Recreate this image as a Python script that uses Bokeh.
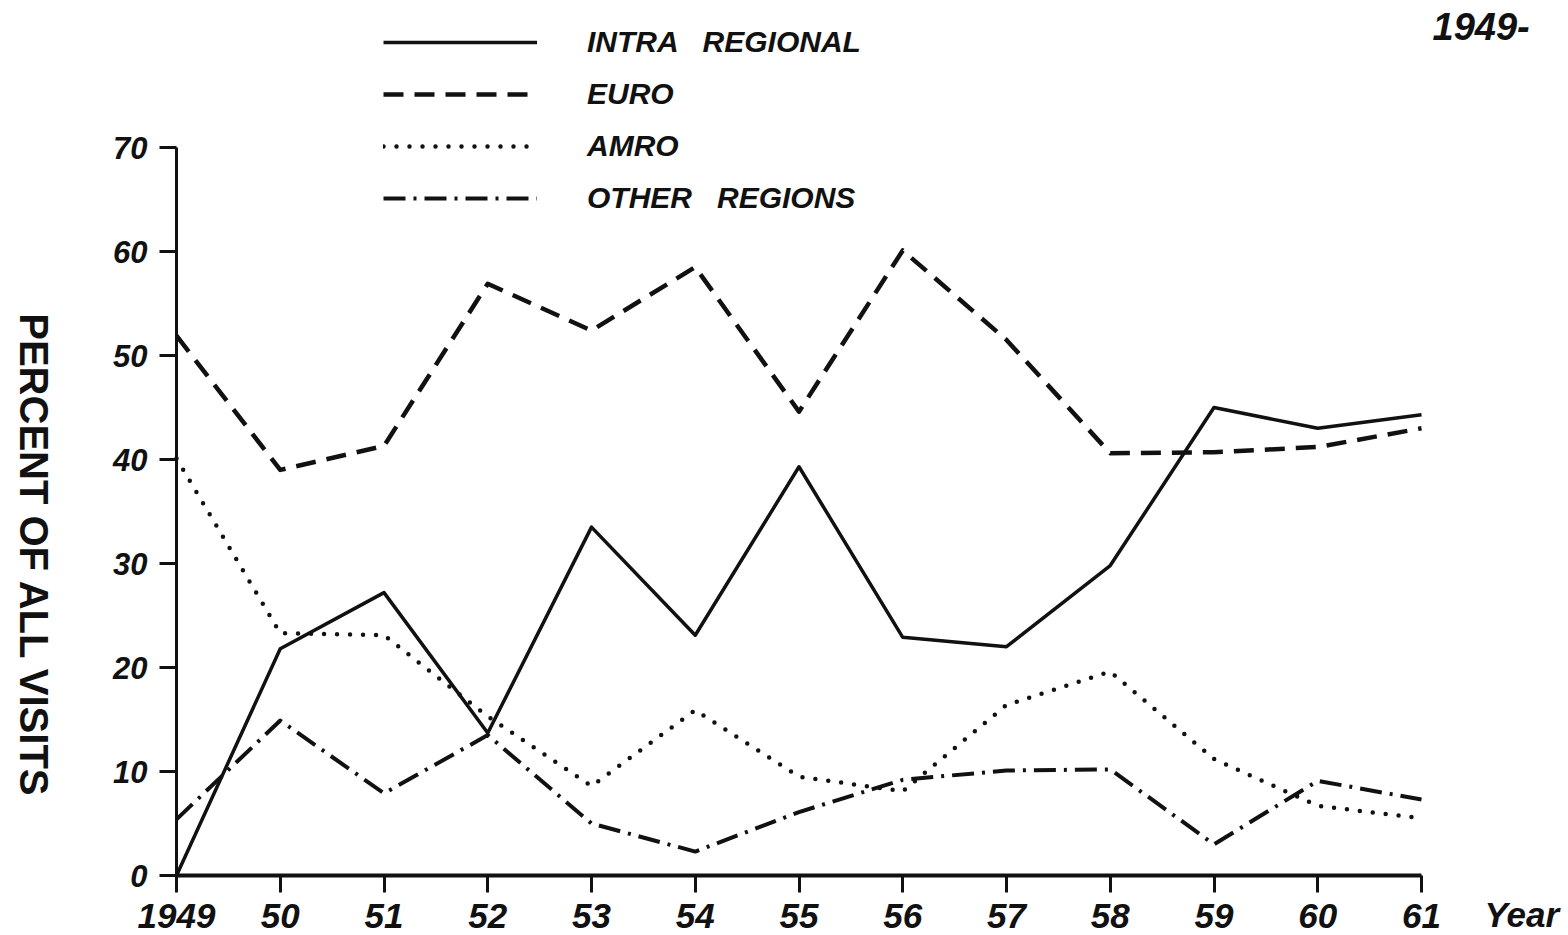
import math
from bokeh.plotting import figure
from bokeh.models import Range1d, LinearAxis, FixedTicker, Legend, LegendItem, Label
from bokeh.embed import file_html
from bokeh.resources import INLINE

# ---- data ----
years = [1949, 1950, 1951, 1952, 1953, 1954, 1955, 1956, 1957, 1958, 1959, 1960, 1961]
year_labels = ["1949", "50", "51", "52", "53", "54", "55", "56", "57", "58", "59", "60", "61"]
intra_regional = [0, 21.8, 27.2, 13.7, 33.5, 23.1, 39.3, 22.9, 22.0, 29.8, 45.0, 43.0, 44.3]
euro = [51.9, 39.0, 41.3, 56.9, 52.4, 58.5, 44.6, 60.1, 51.5, 40.6, 40.7, 41.2, 43.0]
amro = [40.1, 23.3, 23.1, 15.3, 8.6, 15.9, 9.5, 8.1, 16.4, 19.6, 11.2, 6.7, 5.5]
other_regions = [5.4, 14.9, 7.9, 13.5, 5.0, 2.3, 6.1, 9.2, 10.1, 10.2, 3.0, 9.1, 7.3]
y_ticks = [0, 10, 20, 30, 40, 50, 60, 70]
series_names = ["INTRA   REGIONAL", "EURO", "AMRO", "OTHER   REGIONS"]

# ---- layout (pixels from the top-left of the figure) ----
W, H = 1566, 933
X0_PX, Y0_PX = 176, 875       # position of (1949, 0)
X1_PX, Y1_PX = 1421, 147      # position of (1961, 70)
ppx = (X1_PX - X0_PX) / 12.0
ppy = (Y0_PX - Y1_PX) / 70.0
x_start = 1949 - X0_PX / ppx
x_end = 1961 + (W - X1_PX) / ppx
y_start = -(H - Y0_PX) / ppy
y_end = 70 + Y1_PX / ppy

def dx(px):
    return 1949 + (px - X0_PX) / ppx

def dy(py):
    return (Y0_PX - py) / ppy

FONT = "Liberation Sans"
INK = "#111111"

p = figure(width=W, height=H, x_range=Range1d(x_start, x_end), y_range=Range1d(y_start, y_end),
           output_backend="svg", toolbar_location=None,
           x_axis_type=None, y_axis_type=None,
           min_border_left=0, min_border_bottom=0, min_border_top=0, min_border_right=0)
p.outline_line_color = None
p.background_fill_color = "white"
p.border_fill_color = "white"

yaxis = LinearAxis(bounds=(0, 70), ticker=FixedTicker(ticks=y_ticks), fixed_location=1949)
xaxis = LinearAxis(bounds=(1949, 1961), ticker=FixedTicker(ticks=years), fixed_location=0,
                   major_label_overrides={y: l for y, l in zip(years, year_labels)})
for ax in (xaxis, yaxis):
    ax.axis_line_color = INK
    ax.major_tick_line_color = INK
    ax.major_tick_line_width = 3
    ax.major_tick_in = 0
    ax.major_tick_out = 17
    ax.minor_tick_line_color = None
    ax.major_label_text_font = FONT
    ax.major_label_text_font_style = "bold italic"
    ax.major_label_text_color = INK
yaxis.axis_line_width = 3
xaxis.axis_line_width = 4
yaxis.major_label_text_font_size = "31px"
yaxis.major_label_standoff = 12
xaxis.major_label_text_font_size = "35px"
xaxis.major_label_standoff = 11
p.add_layout(yaxis, "left")
p.add_layout(xaxis, "below")

r1 = p.line(years, intra_regional, line_color=INK, line_width=3.5, line_join="round")
r2 = p.line(years, euro, line_color=INK, line_width=4.5, line_dash="20 11", line_join="round")
r3 = p.line(years, amro, line_color=INK, line_width=4.5, line_dash="0 13", line_cap="round")
r4 = p.line(years, other_regions, line_color=INK, line_width=4, line_dash="22 8 3 8", line_join="round")

legend = Legend(items=[LegendItem(label=n, renderers=[r]) for n, r in zip(series_names, [r1, r2, r3, r4])],
                location=(383, H - 224),
                glyph_width=154, glyph_height=52, label_height=20, label_standoff=50,
                spacing=0, padding=0, margin=0,
                border_line_color=None, background_fill_alpha=0,
                label_text_font=FONT, label_text_font_style="bold italic",
                label_text_font_size="30px", label_text_color=INK)
p.add_layout(legend)

p.add_layout(Label(x=dx(33), y=dy(555), text="PERCENT OF ALL VISITS", angle=-math.pi / 2,
                   text_align="center", text_baseline="middle", text_font=FONT,
                   text_font_style="bold", text_font_size="40px", text_color=INK))
p.add_layout(Label(x=dx(1484), y=dy(914), text="Year", text_align="left", text_baseline="middle",
                   text_font=FONT, text_font_style="bold italic", text_font_size="35px", text_color=INK))
p.add_layout(Label(x=dx(1432), y=dy(26), text="1949-", text_align="left", text_baseline="middle",
                   text_font=FONT, text_font_style="bold italic", text_font_size="38px", text_color=INK))

open("out.html", "w").write(file_html(p, INLINE))
